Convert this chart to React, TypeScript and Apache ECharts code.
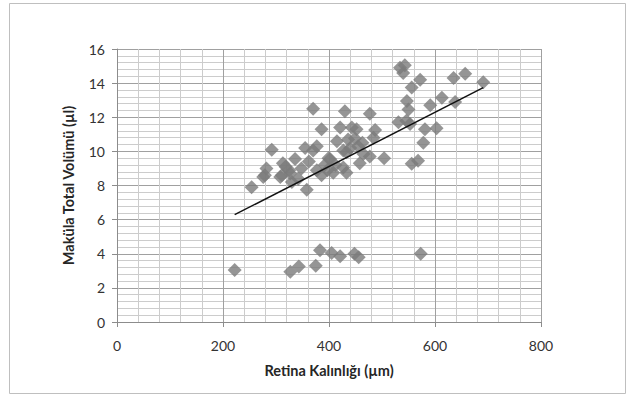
import React, { useEffect, useRef } from "react";
import * as echarts from "echarts";

// Retina thickness (µm) values
const retinaX: number[] = [
  222, 327, 343, 375, 383, 405, 421, 448, 456, 573,
  254, 276, 279, 282, 292, 308, 311, 313, 327, 330, 336, 342, 355, 358,
  370, 370, 377, 377, 386, 386, 399, 402, 408, 415, 421, 427, 427, 430,
  433, 433, 436, 443, 449, 452, 458, 465, 477, 477, 484, 487, 504, 531,
  534, 540, 543, 546, 547, 550, 553, 556, 556, 568, 572, 578, 581, 591,
  603, 613, 635, 638, 657, 691,
  318, 325, 348, 362, 392, 397, 412, 440, 455, 463,
];
// Macula total volume (µl) values
const volumeY: number[] = [
  3.05, 2.95, 3.25, 3.3, 4.2, 4.05, 3.85, 4.0, 3.8, 4.0,
  7.9, 8.5, 8.6, 9.0, 10.1, 8.5, 8.6, 9.3, 8.7, 8.2, 9.55, 8.4, 10.2, 7.75,
  12.5, 10.05, 10.3, 8.9, 11.3, 8.6, 9.6, 9.55, 8.75, 10.6, 11.4, 10.05, 9.05, 12.35,
  9.95, 8.75, 10.7, 11.4, 10.75, 11.3, 9.3, 9.85, 12.2, 9.7, 10.8, 11.25, 9.6, 11.7,
  14.9, 14.6, 15.05, 11.8, 12.95, 12.45, 11.6, 13.75, 9.27, 9.45, 14.2, 10.5, 11.3, 12.7,
  11.35, 13.15, 14.3, 12.9, 14.55, 14.05,
  9.1, 8.9, 9.0, 9.4, 9.2, 8.9, 9.2, 10.2, 10.3, 10.5,
];
// Linear trend line end points
const trendX: number[] = [222, 691];
const trendY: number[] = [6.29, 13.74];

const xTicks = { min: 0, max: 800, interval: 200 };
const yTicks = { min: 0, max: 16, interval: 2 };

const FONT = "Lato, 'Open Sans', sans-serif";

export default function App() {
  const ref = useRef<HTMLDivElement>(null);
  useEffect(() => {
    if (!ref.current) return;
    const chart = echarts.init(ref.current, undefined, { renderer: "svg" });
    const points = retinaX.map((x, i) => [x, volumeY[i]]);
    const trend = trendX.map((x, i) => [x, trendY[i]]);
    chart.setOption({
      animation: false,
      backgroundColor: "#ffffff",
      graphic: [
        {
          type: "rect",
          shape: { x: 9.5, y: 3.5, width: 616, height: 390 },
          style: { fill: "none", stroke: "#bfbfbf", lineWidth: 1 },
          silent: true,
        },
      ],
      grid: { left: 117, top: 49, width: 424, height: 273, containLabel: false },
      xAxis: {
        type: "value",
        min: xTicks.min,
        max: xTicks.max,
        interval: xTicks.interval,
        name: "Retina Kalınlığı (µm)",
        nameLocation: "middle",
        nameGap: 41,
        nameTextStyle: { fontFamily: FONT, fontSize: 14.5, fontWeight: "bold", color: "#262626" },
        axisLine: { show: true, lineStyle: { color: "#8c8c8c", width: 1 } },
        axisTick: { show: true, length: 5, lineStyle: { color: "#8c8c8c" } },
        axisLabel: { fontFamily: FONT, fontSize: 14, color: "#333333", margin: 16 },
        splitLine: { show: true, lineStyle: { color: "#a0a0a0", width: 1 } },
        minorTick: { show: false, splitNumber: 5 },
        minorSplitLine: { show: true, lineStyle: { color: "#cccccc", width: 1 } },
      },
      yAxis: {
        type: "value",
        min: yTicks.min,
        max: yTicks.max,
        interval: yTicks.interval,
        name: "Maküla Total Volümü (µl)",
        nameLocation: "middle",
        nameGap: 41,
        nameRotate: 90,
        nameTextStyle: { fontFamily: FONT, fontSize: 14.5, fontWeight: "bold", color: "#262626" },
        axisLine: { show: true, lineStyle: { color: "#8c8c8c", width: 1 } },
        axisTick: { show: true, length: 5, lineStyle: { color: "#8c8c8c" } },
        axisLabel: { fontFamily: FONT, fontSize: 14, color: "#333333", margin: 12 },
        splitLine: { show: true, lineStyle: { color: "#a0a0a0", width: 1 } },
        minorTick: { show: false, splitNumber: 5 },
        minorSplitLine: { show: true, lineStyle: { color: "#cccccc", width: 1 } },
      },
      series: [
        {
          type: "scatter",
          data: points,
          symbol: "diamond",
          symbolSize: 14,
          itemStyle: { color: "#7a7a7a" },
          z: 2,
        },
        {
          type: "line",
          data: trend,
          symbol: "none",
          lineStyle: { color: "#111111", width: 1.5 },
          z: 3,
        },
      ],
    });
    return () => chart.dispose();
  }, []);
  return (
    <div
      ref={ref}
      style={{ position: "absolute", left: 0, top: 0, width: 633, height: 399 }}
    />
  );
}
